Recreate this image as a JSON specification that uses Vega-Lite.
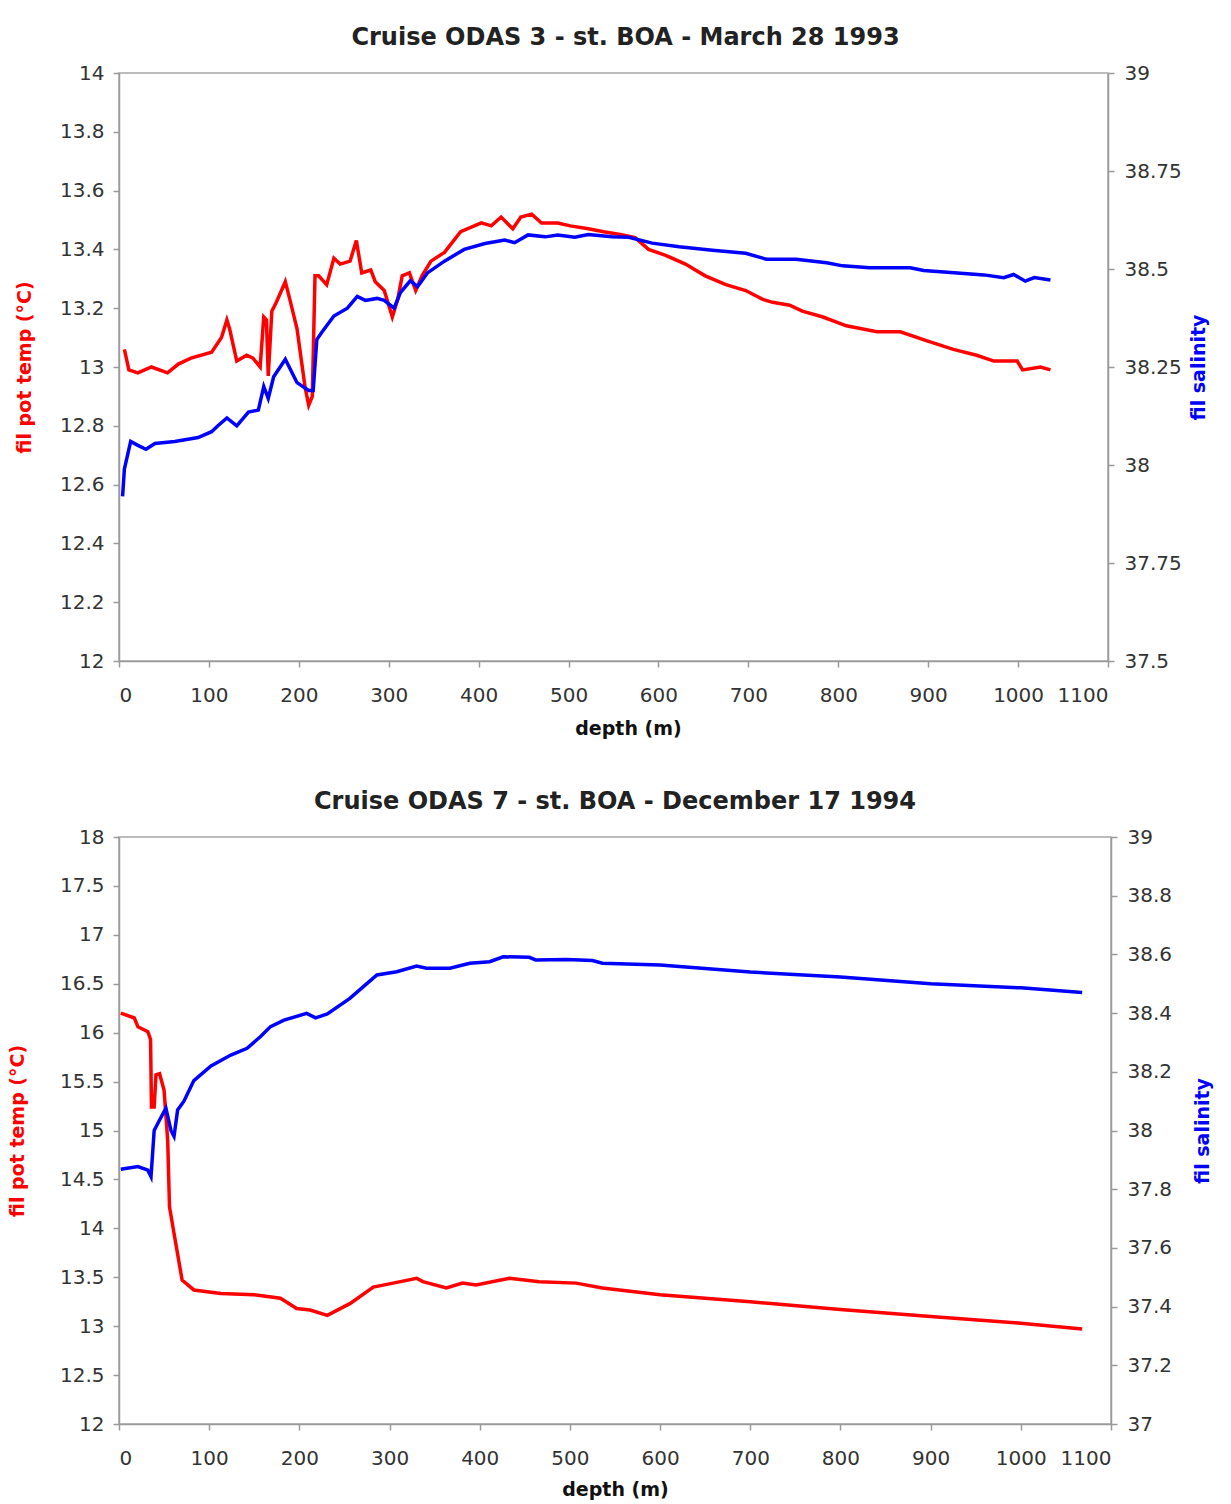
{
  "$schema": "https://vega.github.io/schema/vega-lite/v6.json",
  "background": "white",
  "padding": {"left": 8, "top": 25, "right": 5, "bottom": 0},
  "spacing": 50,
  "config": {
    "font": "DejaVu Sans",
    "view": {"stroke": "#a6a6a6", "strokeWidth": 1.5},
    "axis": {
      "labelFont": "DejaVu Sans", "labelFontSize": 20, "labelColor": "#333333",
      "titleFont": "DejaVu Sans", "titleFontSize": 19, "titleFontWeight": "bold",
      "domainColor": "#9a9a9a", "domainWidth": 1.5, "tickColor": "#9a9a9a", "tickWidth": 1.5, "tickSize": 6,
      "grid": false, "labelPadding": 9
    },
    "title": {"font": "DejaVu Sans", "fontSize": 24, "fontWeight": "bold", "color": "#222222"}
  },
  "datasets": {
    "t1": [
      {"depth": 6, "temp": 13.06}, {"depth": 11, "temp": 12.99}, {"depth": 21, "temp": 12.98}, {"depth": 36, "temp": 13.0},
      {"depth": 54, "temp": 12.98}, {"depth": 66, "temp": 13.01}, {"depth": 80, "temp": 13.03}, {"depth": 103, "temp": 13.05},
      {"depth": 114, "temp": 13.1}, {"depth": 120, "temp": 13.16}, {"depth": 123, "temp": 13.13}, {"depth": 131, "temp": 13.02},
      {"depth": 142, "temp": 13.04}, {"depth": 149, "temp": 13.03}, {"depth": 157, "temp": 13.0}, {"depth": 161, "temp": 13.17},
      {"depth": 164, "temp": 13.16}, {"depth": 166, "temp": 12.97}, {"depth": 170, "temp": 13.19}, {"depth": 175, "temp": 13.22},
      {"depth": 185, "temp": 13.29}, {"depth": 190, "temp": 13.23}, {"depth": 198, "temp": 13.13}, {"depth": 207, "temp": 12.93},
      {"depth": 211, "temp": 12.87}, {"depth": 215, "temp": 12.9}, {"depth": 218, "temp": 13.31}, {"depth": 222, "temp": 13.31},
      {"depth": 231, "temp": 13.28}, {"depth": 239, "temp": 13.37}, {"depth": 246, "temp": 13.35}, {"depth": 257, "temp": 13.36},
      {"depth": 264, "temp": 13.43}, {"depth": 270, "temp": 13.32}, {"depth": 280, "temp": 13.33}, {"depth": 285, "temp": 13.29},
      {"depth": 295, "temp": 13.26}, {"depth": 304, "temp": 13.17}, {"depth": 310, "temp": 13.23}, {"depth": 315, "temp": 13.31},
      {"depth": 323, "temp": 13.32}, {"depth": 330, "temp": 13.26}, {"depth": 337, "temp": 13.31}, {"depth": 347, "temp": 13.36},
      {"depth": 362, "temp": 13.39}, {"depth": 380, "temp": 13.46}, {"depth": 403, "temp": 13.49}, {"depth": 414, "temp": 13.48},
      {"depth": 425, "temp": 13.51}, {"depth": 438, "temp": 13.47}, {"depth": 447, "temp": 13.51}, {"depth": 459, "temp": 13.52},
      {"depth": 470, "temp": 13.49}, {"depth": 488, "temp": 13.49}, {"depth": 502, "temp": 13.48}, {"depth": 522, "temp": 13.47},
      {"depth": 539, "temp": 13.46}, {"depth": 559, "temp": 13.45}, {"depth": 574, "temp": 13.44}, {"depth": 589, "temp": 13.4},
      {"depth": 608, "temp": 13.38}, {"depth": 630, "temp": 13.35}, {"depth": 652, "temp": 13.31}, {"depth": 675, "temp": 13.28},
      {"depth": 697, "temp": 13.26}, {"depth": 716, "temp": 13.23}, {"depth": 727, "temp": 13.22}, {"depth": 746, "temp": 13.21},
      {"depth": 760, "temp": 13.19}, {"depth": 783, "temp": 13.17}, {"depth": 809, "temp": 13.14}, {"depth": 843, "temp": 13.12},
      {"depth": 869, "temp": 13.12}, {"depth": 898, "temp": 13.09}, {"depth": 928, "temp": 13.06}, {"depth": 954, "temp": 13.04},
      {"depth": 973, "temp": 13.02}, {"depth": 999, "temp": 13.02}, {"depth": 1005, "temp": 12.99}, {"depth": 1025, "temp": 13.0},
      {"depth": 1036, "temp": 12.99}
    ],
    "s1": [
      {"depth": 4, "sal": 37.92}, {"depth": 6, "sal": 37.99}, {"depth": 13, "sal": 38.06}, {"depth": 21, "sal": 38.05},
      {"depth": 30, "sal": 38.04}, {"depth": 40, "sal": 38.055}, {"depth": 62, "sal": 38.06}, {"depth": 88, "sal": 38.07},
      {"depth": 103, "sal": 38.085}, {"depth": 110, "sal": 38.1}, {"depth": 120, "sal": 38.12}, {"depth": 131, "sal": 38.1},
      {"depth": 144, "sal": 38.135}, {"depth": 155, "sal": 38.14}, {"depth": 161, "sal": 38.2}, {"depth": 166, "sal": 38.17},
      {"depth": 172, "sal": 38.225}, {"depth": 185, "sal": 38.27}, {"depth": 198, "sal": 38.21}, {"depth": 211, "sal": 38.19},
      {"depth": 216, "sal": 38.19}, {"depth": 220, "sal": 38.32}, {"depth": 226, "sal": 38.34}, {"depth": 239, "sal": 38.38},
      {"depth": 254, "sal": 38.4}, {"depth": 265, "sal": 38.43}, {"depth": 274, "sal": 38.42}, {"depth": 287, "sal": 38.425},
      {"depth": 295, "sal": 38.42}, {"depth": 306, "sal": 38.4}, {"depth": 313, "sal": 38.44}, {"depth": 324, "sal": 38.47},
      {"depth": 332, "sal": 38.455}, {"depth": 343, "sal": 38.49}, {"depth": 362, "sal": 38.52}, {"depth": 384, "sal": 38.55},
      {"depth": 407, "sal": 38.565}, {"depth": 429, "sal": 38.574}, {"depth": 440, "sal": 38.567}, {"depth": 455, "sal": 38.587},
      {"depth": 474, "sal": 38.582}, {"depth": 488, "sal": 38.587}, {"depth": 507, "sal": 38.581}, {"depth": 522, "sal": 38.588},
      {"depth": 548, "sal": 38.582}, {"depth": 567, "sal": 38.581}, {"depth": 593, "sal": 38.566}, {"depth": 623, "sal": 38.557},
      {"depth": 660, "sal": 38.548}, {"depth": 697, "sal": 38.54}, {"depth": 720, "sal": 38.525}, {"depth": 753, "sal": 38.525},
      {"depth": 787, "sal": 38.516}, {"depth": 805, "sal": 38.508}, {"depth": 835, "sal": 38.503}, {"depth": 880, "sal": 38.503},
      {"depth": 895, "sal": 38.496}, {"depth": 925, "sal": 38.491}, {"depth": 962, "sal": 38.485}, {"depth": 984, "sal": 38.478},
      {"depth": 995, "sal": 38.486}, {"depth": 1008, "sal": 38.469}, {"depth": 1018, "sal": 38.478}, {"depth": 1036, "sal": 38.472}
    ],
    "t2": [
      {"depth": 2, "temp": 16.2}, {"depth": 17, "temp": 16.15}, {"depth": 21, "temp": 16.06}, {"depth": 32, "temp": 16.01},
      {"depth": 35, "temp": 15.93}, {"depth": 36, "temp": 15.24}, {"depth": 39, "temp": 15.24}, {"depth": 41, "temp": 15.57},
      {"depth": 45, "temp": 15.58}, {"depth": 50, "temp": 15.41}, {"depth": 54, "temp": 14.9}, {"depth": 56, "temp": 14.22},
      {"depth": 61, "temp": 13.95}, {"depth": 70, "temp": 13.47}, {"depth": 83, "temp": 13.37}, {"depth": 113, "temp": 13.335},
      {"depth": 150, "temp": 13.32}, {"depth": 179, "temp": 13.285}, {"depth": 197, "temp": 13.18}, {"depth": 212, "temp": 13.165},
      {"depth": 231, "temp": 13.11}, {"depth": 256, "temp": 13.23}, {"depth": 282, "temp": 13.4}, {"depth": 304, "temp": 13.44},
      {"depth": 330, "temp": 13.49}, {"depth": 337, "temp": 13.455}, {"depth": 363, "temp": 13.39}, {"depth": 381, "temp": 13.44},
      {"depth": 396, "temp": 13.42}, {"depth": 433, "temp": 13.49}, {"depth": 466, "temp": 13.455}, {"depth": 507, "temp": 13.44},
      {"depth": 536, "temp": 13.39}, {"depth": 600, "temp": 13.32}, {"depth": 700, "temp": 13.25}, {"depth": 800, "temp": 13.17},
      {"depth": 900, "temp": 13.1}, {"depth": 1000, "temp": 13.03}, {"depth": 1068, "temp": 12.97}
    ],
    "s2": [
      {"depth": 2, "sal": 37.868}, {"depth": 21, "sal": 37.877}, {"depth": 32, "sal": 37.865}, {"depth": 35.5, "sal": 37.843},
      {"depth": 39, "sal": 38.0}, {"depth": 45, "sal": 38.036}, {"depth": 52, "sal": 38.076}, {"depth": 57.6, "sal": 38.0},
      {"depth": 61, "sal": 37.98}, {"depth": 65, "sal": 38.07}, {"depth": 72, "sal": 38.1}, {"depth": 83, "sal": 38.17},
      {"depth": 102, "sal": 38.22}, {"depth": 124, "sal": 38.257}, {"depth": 142, "sal": 38.28}, {"depth": 157, "sal": 38.32},
      {"depth": 168, "sal": 38.354}, {"depth": 183, "sal": 38.376}, {"depth": 208, "sal": 38.399}, {"depth": 218, "sal": 38.384},
      {"depth": 231, "sal": 38.397}, {"depth": 256, "sal": 38.45}, {"depth": 271, "sal": 38.49}, {"depth": 286, "sal": 38.53},
      {"depth": 308, "sal": 38.541}, {"depth": 330, "sal": 38.56}, {"depth": 341, "sal": 38.553}, {"depth": 367, "sal": 38.553},
      {"depth": 389, "sal": 38.57}, {"depth": 411, "sal": 38.575}, {"depth": 426, "sal": 38.592}, {"depth": 455, "sal": 38.59},
      {"depth": 462, "sal": 38.581}, {"depth": 496, "sal": 38.583}, {"depth": 525, "sal": 38.579}, {"depth": 536, "sal": 38.57},
      {"depth": 600, "sal": 38.564}, {"depth": 700, "sal": 38.54}, {"depth": 800, "sal": 38.523}, {"depth": 900, "sal": 38.5},
      {"depth": 1000, "sal": 38.486}, {"depth": 1068, "sal": 38.47}
    ]
  },
  "vconcat": [
    {
      "title": {"text": "Cruise ODAS 3 - st. BOA - March 28 1993", "offset": 13, "dx": 12},
      "width": 989,
      "height": 588,
      "encoding": {
        "x": {"field": "depth", "type": "quantitative", "scale": {"domain": [0, 1100], "nice": false},
              "axis": {"values": [0, 100, 200, 300, 400, 500, 600, 700, 800, 900, 1000, 1100], "format": "d", "labelPadding": 18, "title": "depth (m)", "titleColor": "#111111", "titlePadding": 14, "titleX": 509}}
      },
      "layer": [
        {
          "data": {"name": "t1"},
          "mark": {"type": "line", "color": "#ff0000", "strokeWidth": 3.5},
          "encoding": {
            "y": {"field": "temp", "type": "quantitative", "scale": {"domain": [12, 14], "nice": false, "zero": false},
                  "axis": {"values": [12, 12.2, 12.4, 12.6, 12.8, 13, 13.2, 13.4, 13.6, 13.8, 14], "format": ".4~g", "title": "fil pot temp (°C)", "titleColor": "#ff0000", "titlePadding": 24.5}}
          }
        },
        {
          "data": {"name": "s1"},
          "mark": {"type": "line", "color": "#0000ff", "strokeWidth": 3.5},
          "encoding": {
            "y": {"field": "sal", "type": "quantitative", "scale": {"domain": [37.5, 39], "nice": false, "zero": false},
                  "axis": {"orient": "right", "values": [37.5, 37.75, 38, 38.25, 38.5, 38.75, 39], "format": ".4~g", "labelPadding": 10, "title": "fil salinity", "titleColor": "#0000ff", "titleAngle": 270, "titleBaseline": "top", "titlePadding": 8}}
          }
        }
      ],
      "resolve": {"scale": {"y": "independent"}}
    },
    {
      "title": {"text": "Cruise ODAS 7 - st. BOA - December 17 1994", "offset": 13},
      "width": 992,
      "height": 587,
      "encoding": {
        "x": {"field": "depth", "type": "quantitative", "scale": {"domain": [0, 1100], "nice": false},
              "axis": {"values": [0, 100, 200, 300, 400, 500, 600, 700, 800, 900, 1000, 1100], "format": "d", "labelPadding": 18, "title": "depth (m)", "titleColor": "#111111", "titlePadding": 12}}
      },
      "layer": [
        {
          "data": {"name": "t2"},
          "mark": {"type": "line", "color": "#ff0000", "strokeWidth": 3.5},
          "encoding": {
            "y": {"field": "temp", "type": "quantitative", "scale": {"domain": [12, 18], "nice": false, "zero": false},
                  "axis": {"values": [12, 12.5, 13, 13.5, 14, 14.5, 15, 15.5, 16, 16.5, 17, 17.5, 18], "format": ".4~g", "title": "fil pot temp (°C)", "titleColor": "#ff0000", "titlePadding": 31.5}}
          }
        },
        {
          "data": {"name": "s2"},
          "mark": {"type": "line", "color": "#0000ff", "strokeWidth": 3.5},
          "encoding": {
            "y": {"field": "sal", "type": "quantitative", "scale": {"domain": [37, 39], "nice": false, "zero": false},
                  "axis": {"orient": "right", "values": [37, 37.2, 37.4, 37.6, 37.8, 38, 38.2, 38.4, 38.6, 38.8, 39], "format": ".4~g", "labelPadding": 10, "title": "fil salinity", "titleColor": "#0000ff", "titleAngle": 270, "titleBaseline": "top", "titlePadding": 22}}
          }
        }
      ],
      "resolve": {"scale": {"y": "independent"}}
    }
  ]
}
